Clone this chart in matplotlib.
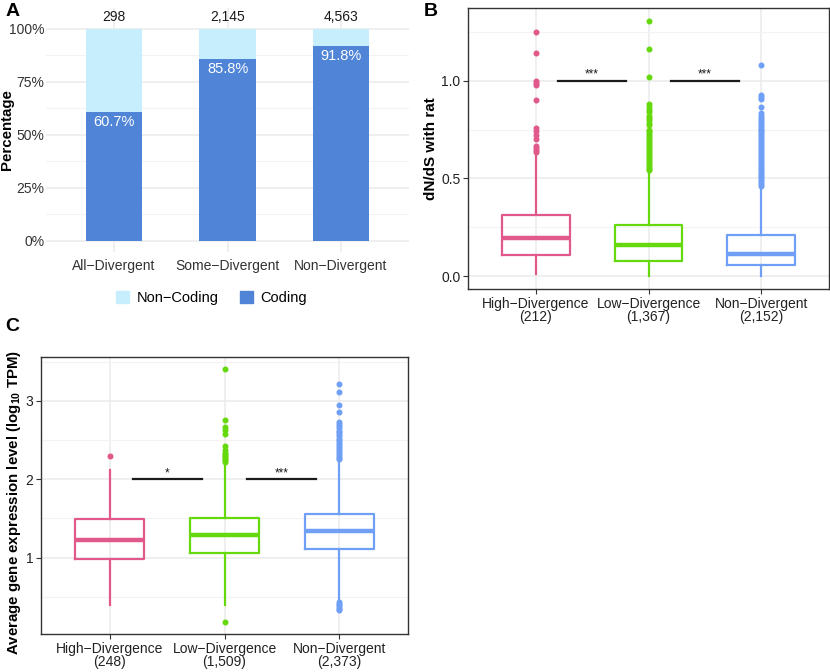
import matplotlib
matplotlib.use("Agg")
import matplotlib.pyplot as plt
from matplotlib.patches import Patch

plt.rcParams['font.family'] = ['Liberation Sans', 'DejaVu Sans']
plt.rcParams['mathtext.fontset'] = 'custom'
plt.rcParams['mathtext.bf'] = 'Liberation Sans:bold'
plt.rcParams['mathtext.default'] = 'bf'

# ---- panel A data
a_groups = ["All\u2212Divergent", "Some\u2212Divergent", "Non\u2212Divergent"]
a_counts = ["298", "2,145", "4,563"]
a_coding = [60.7, 85.8, 91.8]

# ---- panel B data (dN/dS with rat)
box_groups = ["High\u2212Divergence", "Low\u2212Divergence", "Non\u2212Divergent"]
b_n = ["(212)", "(1,367)", "(2,152)"]
b_q1 = [0.107, 0.080, 0.056]
b_med = [0.197, 0.160, 0.116]
b_q3 = [0.311, 0.262, 0.213]
b_lo = [0.009, 0.0, 0.0]
b_hi = [0.616, 0.533, 0.451]
b_out_high = [1.247, 1.14, 0.998, 0.99, 0.978, 0.90, 0.757, 0.745, 0.72, 0.70,
              0.668, 0.655, 0.645, 0.635]
b_out_low = [1.306, 1.163, 1.017, 0.881, 0.864, 0.852, 0.842, 0.82, 0.81, 0.80,
             0.785, 0.775, 0.75, 0.74, 0.73, 0.72, 0.71, 0.70, 0.69, 0.68, 0.67,
             0.66, 0.65, 0.64, 0.63, 0.62, 0.61, 0.60, 0.59, 0.58, 0.57, 0.56,
             0.55, 0.545]
b_out_non = [1.082, 0.925, 0.915, 0.905, 0.866, 0.835, 0.82, 0.81, 0.80, 0.79,
             0.78, 0.77, 0.76, 0.75, 0.74, 0.73, 0.72, 0.71, 0.70, 0.69, 0.68,
             0.67, 0.66, 0.65, 0.64, 0.63, 0.62, 0.61, 0.60, 0.59, 0.58, 0.57,
             0.56, 0.55, 0.54, 0.53, 0.52, 0.51, 0.50, 0.49, 0.48, 0.47, 0.46]
b_sig = ["***", "***"]

# ---- panel C data (expression, log10 TPM)
c_n = ["(248)", "(1,509)", "(2,373)"]
c_q1 = [0.983, 1.06, 1.11]
c_med = [1.225, 1.29, 1.34]
c_q3 = [1.493, 1.51, 1.56]
c_lo = [0.39, 0.39, 0.44]
c_hi = [2.12, 2.20, 2.25]
c_out_high = [2.30]
c_out_low = [3.41, 2.76, 2.67, 2.63, 2.58, 2.43, 2.37, 2.34, 2.32, 2.30, 2.28,
             2.26, 2.24, 2.22, 0.185]
c_out_non = [3.21, 3.11, 2.95, 2.86, 2.73, 2.70, 2.68, 2.65, 2.62, 2.60, 2.58,
             2.55, 2.52, 2.50, 2.47, 2.45, 2.42, 2.40, 2.37, 2.35, 2.32, 2.30,
             2.27, 2.26, 0.43, 0.41, 0.39, 0.37, 0.35, 0.33]
c_sig = ["*", "***"]

col_coding = "#4F84D7"
col_noncoding = "#C6EEFC"
box_cols = ["#E0598A", "#66D90E", "#6FA0F6"]
grid_col = "#EBEBEB"

fig = plt.figure(figsize=(8.3, 6.72), dpi=100)

# ================= panel A
axA = fig.add_axes([0.0554, 0.6256, 0.4374, 0.3628])
xa = [1, 2, 3]
noncoding = [100 - v for v in a_coding]
axA.bar(xa, a_coding, width=0.5, color=col_coding, zorder=2)
axA.bar(xa, noncoding, width=0.5, bottom=a_coding, color=col_noncoding, zorder=2)
for x, v in zip(xa, a_coding):
    axA.text(x, v - 1.2, f"{v}%", ha='center', va='top', color='white', fontsize=10.5)
for x, c in zip(xa, a_counts):
    axA.text(x, 105.5, c, ha='center', va='center', color='#1a1a1a', fontsize=10)
axA.set_xlim(0.4, 3.6)
axA.set_ylim(-5, 110)
axA.set_yticks([0, 25, 50, 75, 100])
axA.set_yticklabels(["0%", "25%", "50%", "75%", "100%"])
axA.set_yticks([12.5, 37.5, 62.5, 87.5], minor=True)
axA.set_xticks(xa)
axA.set_xticklabels(a_groups)
axA.grid(True, which='major', color=grid_col, lw=1.1, zorder=0)
axA.grid(True, which='minor', axis='y', color='#F3F3F3', lw=0.8, zorder=0)
axA.tick_params(which='both', length=0, labelsize=10, colors='#333333', pad=5)
axA.tick_params(axis='y', pad=1)
for s in axA.spines.values():
    s.set_visible(False)
axA.set_ylabel("Percentage", fontsize=10.8, fontweight='bold')
axA.yaxis.set_label_coords(-0.088, 0.5)
handles = [Patch(color=col_noncoding, label="Non\u2212Coding"),
           Patch(color=col_coding, label="Coding")]
fig.legend(handles=handles, loc='center', bbox_to_anchor=(0.255, 0.556), ncol=2,
           frameon=False, fontsize=10.5, handlelength=0.9, handleheight=0.9,
           columnspacing=1.5, handletextpad=0.5)


def box_panel(ax, q1, med, q3, lo, hi, fliers, ns, sig, sig_y):
    stats = []
    for i in range(3):
        stats.append(dict(q1=q1[i], med=med[i], q3=q3[i], whislo=lo[i],
                          whishi=hi[i], fliers=fliers[i]))
    for i, st in enumerate(stats):
        c = box_cols[i]
        ax.bxp([st], positions=[i + 1], widths=0.6, showcaps=False,
               boxprops=dict(color=c, lw=1.6),
               whiskerprops=dict(color=c, lw=1.6),
               medianprops=dict(color=c, lw=3.2),
               flierprops=dict(marker='o', markersize=3.3, markerfacecolor=c,
                               markeredgecolor=c, linestyle='none'),
               zorder=3)
    for j, (x0, x1) in enumerate([(1.2, 1.8), (2.2, 2.8)]):
        ax.plot([x0, x1], [sig_y, sig_y], color='#1a1a1a', lw=1.6, zorder=4)
        ax.text((x0 + x1) / 2, sig_y, sig[j], ha='center', va='bottom',
                fontsize=8.5, color='#1a1a1a')
    ax.set_xlim(0.4, 3.6)
    ax.set_xticks([1, 2, 3])
    ax.set_xticklabels([g + "\n" + n for g, n in zip(box_groups, ns)],
                       linespacing=0.95)
    ax.grid(True, which='major', color=grid_col, lw=1.1, zorder=0)
    ax.grid(True, which='minor', axis='y', color='#F3F3F3', lw=0.8, zorder=0)
    ax.set_axisbelow(True)
    ax.tick_params(which='major', length=3.5, color='#333333', labelsize=10,
                   labelcolor='#222222', pad=2)
    ax.tick_params(which='minor', length=0)
    for s in ax.spines.values():
        s.set_color('#333333')
        s.set_linewidth(1.0)


# ================= panel B
axB = fig.add_axes([0.5639, 0.5699, 0.4349, 0.4182])
box_panel(axB, b_q1, b_med, b_q3, b_lo, b_hi,
          [b_out_high, b_out_low, b_out_non], b_n, b_sig, 1.0)
axB.set_ylim(-0.0655, 1.3715)
axB.set_yticks([0.0, 0.5, 1.0])
axB.set_yticklabels(["0.0", "0.5", "1.0"])
axB.set_yticks([0.25, 0.75, 1.25], minor=True)
axB.set_ylabel("dN/dS with rat", fontsize=11, fontweight='bold', labelpad=2)

# ================= panel C
axC = fig.add_axes([0.0494, 0.0565, 0.4422, 0.4127])
box_panel(axC, c_q1, c_med, c_q3, c_lo, c_hi,
          [c_out_high, c_out_low, c_out_non], c_n, c_sig, 2.0)
axC.set_ylim(0.026, 3.564)
axC.set_yticks([1, 2, 3])
axC.set_yticks([0.5, 1.5, 2.5, 3.5], minor=True)
axC.set_ylabel("Average gene expression level (log$_{10}$ TPM)", fontsize=10.8,
               fontweight='bold')
axC.yaxis.set_label_coords(-0.05, 0.476)

# panel letters
fig.text(0.007, 0.995, "A", fontsize=14, fontweight='bold', va='top')
fig.text(0.511, 0.995, "B", fontsize=14, fontweight='bold', va='top')
fig.text(0.006, 0.527, "C", fontsize=14, fontweight='bold', va='top')

fig.savefig("out.png", dpi=100)
